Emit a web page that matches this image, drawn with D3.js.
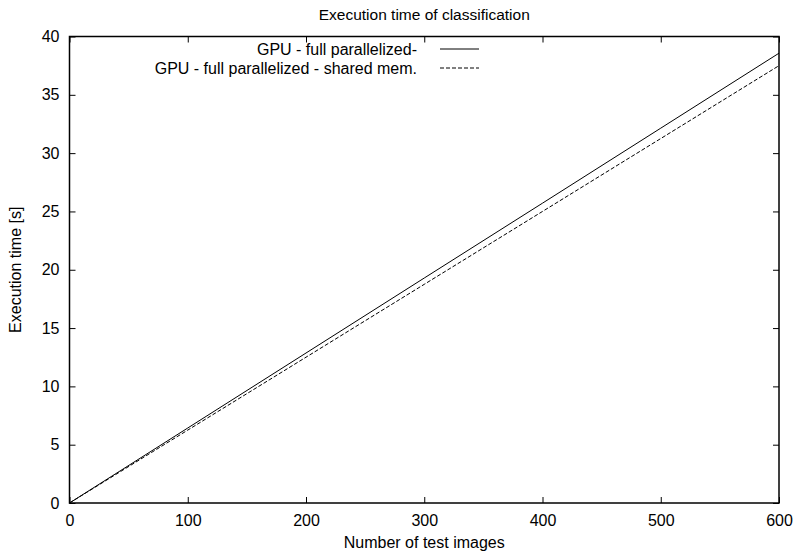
<!DOCTYPE html>
<meta charset="utf-8">
<style>
  body { margin: 0; background: #fff; }
  text { font-family: "Liberation Sans", Arial, sans-serif; fill: #000; }
  .tick text { font-size: 16px; }
</style>
<body>
<script src="https://cdnjs.cloudflare.com/ajax/libs/d3/7.8.5/d3.min.js"></script>
<script>
// data
var images = [0, 100, 200, 300, 400, 500, 600];
var fullPar = [0, 6.43, 12.86, 19.29, 25.71, 32.14, 38.57];
var sharedMem = [0, 6.25, 12.5, 18.75, 25.0, 31.25, 37.5];
var seriesNames = ["GPU - full parallelized-", "GPU - full parallelized - shared mem."];
var xTicks = [0, 100, 200, 300, 400, 500, 600];
var yTicks = [0, 5, 10, 15, 20, 25, 30, 35, 40];

var width = 798, height = 555;
var margin = {top: 36.5, right: 19, bottom: 52, left: 69.5};

var svg = d3.select("body").append("svg")
    .attr("width", width)
    .attr("height", height);

var x = d3.scaleLinear().domain([0, 600]).range([margin.left, width - margin.right]);
var y = d3.scaleLinear().domain([0, 40]).range([height - margin.bottom, margin.top]);

// axes, gnuplot style: ticks inside on all four sides
svg.append("g")
    .attr("transform", "translate(0," + y(0) + ")")
    .call(d3.axisBottom(x).tickValues(xTicks).tickSize(-6).tickPadding(12))
    .call(g => g.select(".domain").remove());
svg.append("g")
    .attr("transform", "translate(0," + y(40) + ")")
    .call(d3.axisTop(x).tickValues(xTicks).tickSize(-6).tickFormat(""))
    .call(g => g.select(".domain").remove());
svg.append("g")
    .attr("transform", "translate(" + x(0) + ",0)")
    .call(d3.axisLeft(y).tickValues(yTicks).tickSize(-6).tickPadding(10))
    .call(g => g.select(".domain").remove());
svg.append("g")
    .attr("transform", "translate(" + x(600) + ",0)")
    .call(d3.axisRight(y).tickValues(yTicks).tickSize(-6).tickFormat(""))
    .call(g => g.select(".domain").remove());

svg.selectAll(".tick line").attr("stroke", "#000");

// frame
svg.append("rect")
    .attr("x", x(0)).attr("y", y(40))
    .attr("width", x(600) - x(0)).attr("height", y(0) - y(40))
    .attr("fill", "none").attr("stroke", "#000").attr("stroke-width", 1.5);

// lines
var line = d3.line().x((d, i) => x(images[i])).y(d => y(d));
svg.append("path").datum(fullPar)
    .attr("d", line).attr("fill", "none").attr("stroke", "#000").attr("stroke-width", 1);
svg.append("path").datum(sharedMem)
    .attr("d", line).attr("fill", "none").attr("stroke", "#000").attr("stroke-width", 1)
    .attr("stroke-dasharray", "4,2");

// legend
var legend = svg.append("g");
seriesNames.forEach(function(name, i) {
  var ly = 49 + i * 19;
  legend.append("text")
      .attr("x", 417).attr("y", ly + 5.5)
      .attr("text-anchor", "end").style("font-size", "16px")
      .text(name);
  legend.append("line")
      .attr("x1", 440).attr("x2", 479).attr("y1", ly).attr("y2", ly)
      .attr("stroke", "#000").attr("stroke-width", 1)
      .attr("stroke-dasharray", i == 1 ? "4,2" : null);
});

// titles
svg.append("text")
    .attr("x", (x(0) + x(600)) / 2).attr("y", 20)
    .attr("text-anchor", "middle").style("font-size", "15.5px")
    .text("Execution time of classification");
svg.append("text")
    .attr("x", (x(0) + x(600)) / 2).attr("y", 548)
    .attr("text-anchor", "middle").style("font-size", "16px")
    .text("Number of test images");
svg.append("text")
    .attr("transform", "translate(21," + (y(20)) + ") rotate(-90)")
    .attr("text-anchor", "middle").style("font-size", "16px")
    .text("Execution time [s]");
</script>
</body>
